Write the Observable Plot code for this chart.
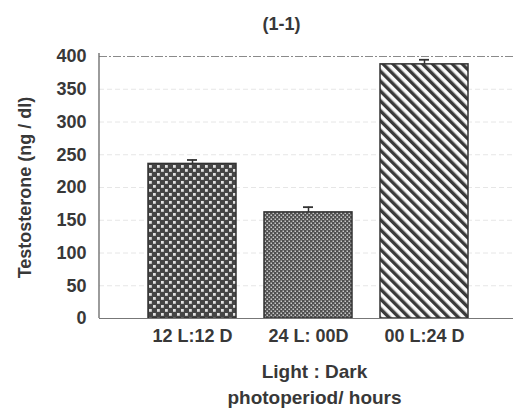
<!DOCTYPE html>
<html>
<head>
<meta charset="utf-8">
<script src="https://cdn.jsdelivr.net/npm/d3@7"></script>
<script src="https://cdn.jsdelivr.net/npm/@observablehq/plot@0.6"></script>
<style>
  html, body { margin: 0; padding: 0; background: #fff; }
</style>
</head>
<body>
<div id="chart"></div>
<script>
const categories = ["12 L:12 D", "24 L: 00D", "00 L:24 D"];
const means = [236, 162, 388];
const errors = [6, 8, 7];
const yTicks = [0, 50, 100, 150, 200, 250, 300, 350, 400];
const titleText = "(1-1)";
const yLabel = "Testosterone (ng / dl)";
const xLabelLines = ["Light : Dark", "photoperiod/ hours"];

const data = categories.map((c, i) => ({cat: c, mean: means[i], hi: means[i] + errors[i], i}));

const font = "'Liberation Sans', Arial, sans-serif";
const ink = "#383838";

const chart = Plot.plot({
  width: 513,
  height: 415,
  marginTop: 56,
  marginBottom: 97,
  marginLeft: 99,
  marginRight: 0,
  x: {domain: categories, range: [99, 517], paddingInner: 0.24, paddingOuter: 0.42, label: null},
  y: {domain: [0, 400], label: null},
  style: {fontFamily: font, fontSize: "18px", fontWeight: "bold", color: ink, background: "#fff", overflow: "visible"},
  marks: [
    Plot.ruleY(yTicks.slice(1, -1), {stroke: "#e6e6e6", strokeDasharray: "5,3"}),
    Plot.ruleY([400], {stroke: "#8a8a8a", strokeDasharray: "8,2,2,2", strokeWidth: 1.2}),
    Plot.barY(data, {x: "cat", y: "mean", fill: d => `url(#pat${d.i})`, stroke: "#333", strokeWidth: 1.5}),
    Plot.ruleX(data, {x: "cat", y1: "mean", y2: "hi", stroke: "#333", strokeWidth: 1.5}),
    Plot.tickY(data, {x: "cat", y: "hi", insetLeft: 39, insetRight: 39, stroke: "#333", strokeWidth: 1.8}),
    Plot.ruleY([0], {stroke: "#777", strokeWidth: 1.2}),
    Plot.axisY({ticks: yTicks, tickSize: 0, tickPadding: 13, fontSize: 18, label: null}),
    Plot.axisX({tickSize: 0, tickPadding: 11, fontSize: 18, label: null}),
    Plot.text([titleText], {frameAnchor: "top", dy: -39, dx: -25, fontSize: 18, fontWeight: "bold", fill: ink}),
    Plot.text([yLabel], {frameAnchor: "left", textAnchor: "middle", dx: -74, rotate: -90, fontSize: 18, fontWeight: "bold", fill: ink}),
    Plot.text([xLabelLines[0]], {frameAnchor: "bottom", dy: 59, dx: 8, fontSize: 19, fontWeight: "bold", fill: ink}),
    Plot.text([xLabelLines[1]], {frameAnchor: "bottom", dy: 85, dx: 8, fontSize: 19, fontWeight: "bold", fill: ink})
  ]
});

// patterns and left axis line drawn with the chart's own scales
const svg = d3.select(chart);
const defs = svg.insert("defs", ":first-child");

const p0 = defs.append("pattern").attr("id", "pat0").attr("patternUnits", "userSpaceOnUse")
  .attr("width", 8).attr("height", 8);
p0.append("rect").attr("width", 8).attr("height", 8).attr("fill", "#454545");
p0.append("rect").attr("x", 1).attr("y", 1).attr("width", 2.8).attr("height", 2.8).attr("fill", "#e2e2e2");
p0.append("rect").attr("x", 5).attr("y", 5).attr("width", 2.8).attr("height", 2.8).attr("fill", "#e2e2e2");

const p1 = defs.append("pattern").attr("id", "pat1").attr("patternUnits", "userSpaceOnUse")
  .attr("width", 4).attr("height", 4);
p1.append("rect").attr("width", 4).attr("height", 4).attr("fill", "#505050");
p1.append("rect").attr("x", 0.5).attr("y", 0.5).attr("width", 1.5).attr("height", 1.5).attr("fill", "#c8c8c8");
p1.append("rect").attr("x", 2.5).attr("y", 2.5).attr("width", 1.5).attr("height", 1.5).attr("fill", "#c8c8c8");

const p2 = defs.append("pattern").attr("id", "pat2").attr("patternUnits", "userSpaceOnUse")
  .attr("width", 7).attr("height", 7).attr("patternTransform", "rotate(-45)");
p2.append("rect").attr("width", 7).attr("height", 7).attr("fill", "#fafafa");
p2.append("rect").attr("width", 3.4).attr("height", 7).attr("fill", "#3a3a3a");

const ys = chart.scale("y");
const xs = chart.scale("x");
svg.append("line")
  .attr("x1", xs.range[0]).attr("x2", xs.range[0])
  .attr("y1", ys.apply(0)).attr("y2", ys.apply(400) - 3)
  .attr("stroke", "#666").attr("stroke-width", 1.3);

document.getElementById("chart").appendChild(chart);
</script>
</body>
</html>
